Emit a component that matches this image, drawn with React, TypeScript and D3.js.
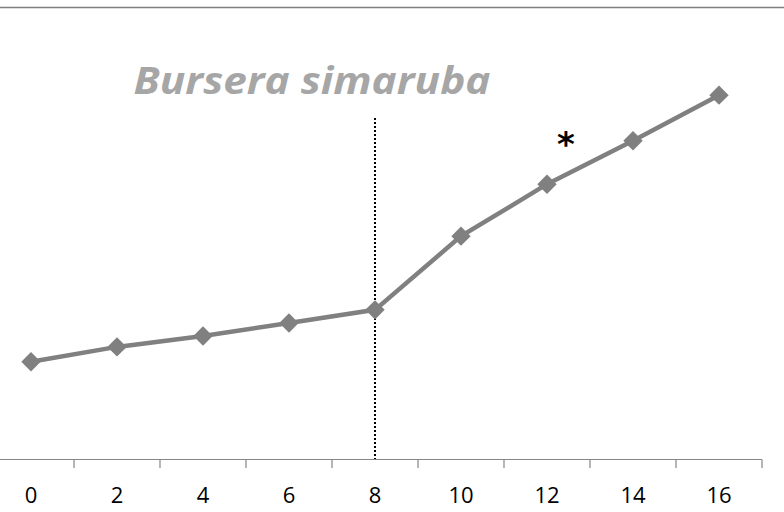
import React from "react";
import * as d3 from "d3";

const months = ["0", "2", "4", "6", "8", "10", "12", "14", "16"];
const growth = [21.5, 24.8, 27.2, 30.1, 33.0, 49.3, 60.8, 70.4, 80.5];
const title = "Bursera simaruba";
const markerMonth = "8";
const significantMonth = "12";

const W = 784;
const H = 512;

export default function App() {
  const x = d3.scaleBand<string>().domain(months).range([-12, 762]);
  const y = d3.scaleLinear().domain([0, 100]).range([459, 7]);
  const cx = (m: string) => (x(m) as number) + x.bandwidth() / 2;

  const line = d3
    .line<number>()
    .x((_, i) => cx(months[i]))
    .y((d) => y(d));

  const diamond = d3.symbol().type(d3.symbolDiamond2).size(240)();

  const tickXs = months.map((m) => (x(m) as number) + x.bandwidth());

  return (
    <svg
      width={W}
      height={H}
      style={{ position: "absolute", left: 0, top: 0, background: "#fff" }}
    >
      <line x1={0} x2={W} y1={7.5} y2={7.5} stroke="#808080" strokeWidth={1.5} />
      <text
        x={312}
        y={94}
        textAnchor="middle"
        fontFamily="'Open Sans', sans-serif"
        fontWeight={700}
        fontStyle="italic"
        fontSize={38}
        textLength={357}
        lengthAdjust="spacingAndGlyphs"
        fill="#a6a6a6"
      >
        {title}
      </text>

      {/* category axis */}
      <line x1={0} x2={762} y1={459.5} y2={459.5} stroke="#868686" strokeWidth={1.2} />
      {tickXs.map((tx, i) => (
        <line key={i} x1={tx} x2={tx} y1={459.5} y2={468} stroke="#868686" strokeWidth={1.2} />
      ))}
      {months.map((m) => (
        <text
          key={m}
          x={cx(m)}
          y={503}
          textAnchor="middle"
          fontFamily="'Open Sans', sans-serif"
          fontSize={22}
          fill="#000"
        >
          {m}
        </text>
      ))}

      {/* treatment marker */}
      <line
        x1={cx(markerMonth)}
        x2={cx(markerMonth)}
        y1={118}
        y2={459}
        stroke="#000"
        strokeWidth={2}
        strokeDasharray="2,2"
      />

      <path d={line(growth) as string} fill="none" stroke="#808080" strokeWidth={4.5} />
      {growth.map((v, i) => (
        <path
          key={i}
          d={diamond as string}
          transform={`translate(${cx(months[i])},${y(v)})`}
          fill="#808080"
        />
      ))}

      <text
        x={cx(significantMonth) + 19}
        y={156}
        textAnchor="middle"
        fontFamily="'DejaVu Sans', sans-serif"
        fontWeight={700}
        fontSize={34}
        fill="#000"
      >
        *
      </text>
    </svg>
  );
}
